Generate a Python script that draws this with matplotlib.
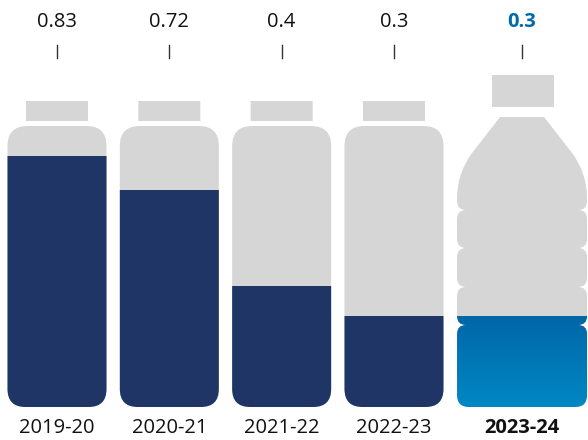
import numpy as np
import matplotlib.pyplot as plt
from matplotlib.path import Path
from matplotlib.patches import PathPatch, Rectangle
from matplotlib.transforms import Affine2D
from matplotlib.colors import LinearSegmentedColormap

# data
years = ['2019-20', '2020-21', '2021-22', '2022-23', '2023-24']
values = [0.83, 0.72, 0.4, 0.3, 0.3]
labels = ['0.83', '0.72', '0.4', '0.3', '0.3']
positions = [0, 1, 2, 3, 4.14]

plt.rcParams['font.family'] = ['Open Sans', 'DejaVu Sans']

NAVY = '#1F3566'
GREY = '#D6D6D6'
BLUE = '#0069AA'

# pixels per data unit (used only for drawing the bottle outlines)
PX_X = 112.33
PX_Y = 302.0

M, L, C, Z = Path.MOVETO, Path.LINETO, Path.CURVE3, Path.CLOSEPOLY


def rrect(x0, y0, x1, y1, rt, rb):
    verts = [(x0 + rb, y0), (x1 - rb, y0), (x1, y0), (x1, y0 + rb),
             (x1, y1 - rt), (x1, y1), (x1 - rt, y1), (x0 + rt, y1),
             (x0, y1), (x0, y1 - rt), (x0, y0 + rb), (x0, y0),
             (x0 + rb, y0), (x0 + rb, y0)]
    codes = [M, L, C, C, L, C, C, L, C, C, L, C, C, Z]
    return Path(verts, codes)


def shoulder():
    verts = [(-22, 290), (22, 290), (50, 254), (65, 234), (65, 209),
             (65, 206), (65, 197), (56, 197), (-56, 197), (-65, 197),
             (-65, 206), (-65, 209), (-65, 234), (-50, 254), (-22, 290),
             (-22, 290)]
    codes = [M, L, L, C, C, L, C, C, L, C, C, L, C, C, L, Z]
    return Path(verts, codes)


fig = plt.figure(figsize=(5.88, 4.40), dpi=100)
ax = fig.add_axes([0, 0, 1, 1])
ax.set_xlim(-57 / PX_X, (588 - 57) / PX_X)
ax.set_ylim(-33 / PX_Y, 407 / PX_Y)
ax.axis('off')

for i, (xc, v) in enumerate(zip(positions, values)):
    tr = Affine2D().scale(1 / PX_X, 1 / PX_Y).translate(xc, 0) + ax.transData
    last = i == len(values) - 1
    if not last:
        body = PathPatch(rrect(-49.5, 0, 49.5, 281, 20, 18), fc=GREY, ec='none', transform=tr)
        cap = PathPatch(rrect(-31, 286, 31, 306, 0, 0), fc=GREY, ec='none', transform=tr)
        ax.add_patch(body)
        ax.add_patch(cap)
        fill = Rectangle((xc - 0.6, 0), 1.2, v, fc=NAVY, ec='none')
        ax.add_patch(fill)
        fill.set_clip_path(body)
    else:
        parts = [shoulder(),
                 rrect(-65, 159, 65, 197, 9, 9),
                 rrect(-65, 120, 65, 159, 9, 9),
                 rrect(-65, 82, 65, 120, 9, 9),
                 rrect(-65, 0, 65, 82, 9, 12)]
        body = PathPatch(Path.make_compound_path(*parts), fc=GREY, ec='none', transform=tr)
        cap = PathPatch(rrect(-30, 300, 32, 332, 0, 0), fc=GREY, ec='none', transform=tr)
        ax.add_patch(body)
        ax.add_patch(cap)
        cmap = LinearSegmentedColormap.from_list('b', ['#0066A8', '#0088C4'])
        grad = np.linspace(0, 1, 256).reshape(-1, 1)
        im = ax.imshow(grad, cmap=cmap, aspect='auto', extent=[xc - 0.7, xc + 0.7, 0, v], zorder=2)
        im.set_clip_path(body)

    bold = 'bold' if last else 'normal'
    ax.text(xc, 1.275, labels[i], ha='center', va='center', fontsize=14.5,
            fontweight=bold, color=BLUE if last else '#111111')
    ax.plot([xc, xc], [1.156, 1.199], color='#333333', lw=1.0)
    ax.text(xc, -0.07, years[i], ha='center', va='center', fontsize=14.5,
            fontweight=bold, color='#111111')

ax.set_xlim(-57 / PX_X, (588 - 57) / PX_X)
ax.set_ylim(-33 / PX_Y, 407 / PX_Y)

fig.savefig('out.png', dpi=100)
